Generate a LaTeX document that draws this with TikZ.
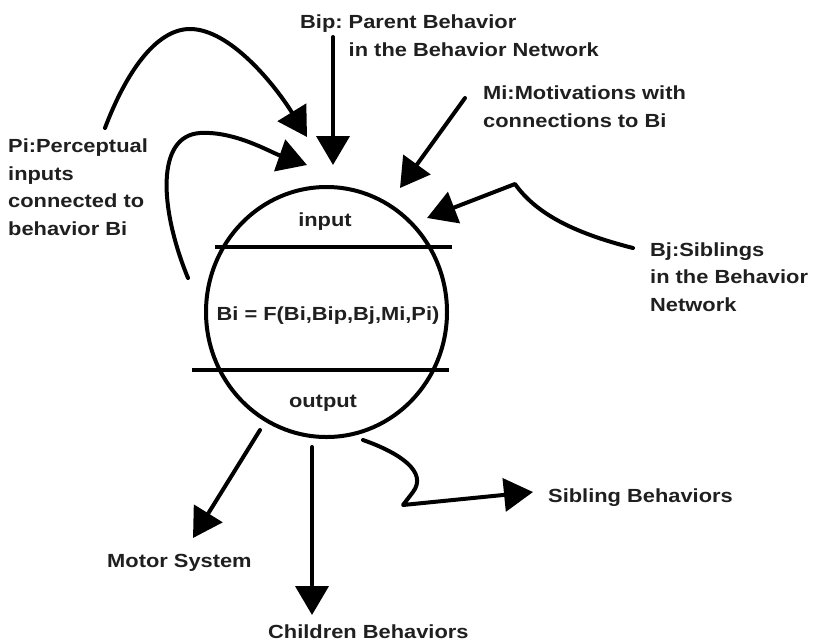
\documentclass[tikz,border=0pt]{standalone}
\usepackage{fontspec}
\setmainfont{Liberation Sans}[FakeStretch=1.15]
\usetikzlibrary{arrows.meta,shapes.geometric}
\definecolor{txtcol}{gray}{0.12}
\begin{document}
\begin{tikzpicture}[x=1pt,y=-1pt,
  lbl/.style={inner sep=0pt, font=\fontsize{19}{27.5}\selectfont\bfseries\frenchspacing,
              text=txtcol, align=left},
  conn/.style={line width=4pt, line cap=round, line join=round,
               -{Triangle[length=29pt,width=33pt]}},
  rule/.style={line width=4pt},
  unit/.style={draw, ellipse, line width=4pt, inner sep=0pt,
               minimum width=241pt, minimum height=250pt}]
\useasboundingbox (0,0) rectangle (818,641);

% behaviour unit with its input / output bands
\node[unit] (bi) at (326.5,312) {};
\draw[rule] (215,247) -- (452,247);
\draw[rule] (192,370) -- (449,370);

% labels (multi-line labels are placed by the baseline of their last line)
\node[lbl, anchor=base west] (pi) at (8,235) {Pi:Perceptual\\inputs\\connected to\\behavior Bi};
\node[lbl, anchor=base west] (bip) at (300,56) {Bip: Parent Behavior\\\phantom{Bip: }in the Behavior Network};
\node[lbl, anchor=base west] (mi) at (483,127) {Mi:Motivations with\\connections to Bi};
\node[lbl, anchor=base west] (bj) at (650,311) {Bj:Siblings\\in the Behavior\\Network};
\node[lbl, anchor=base] (inp) at (325,226) {input};
\node[lbl, anchor=base] (fn) at (328,320) {Bi = F(Bi,Bip,Bj,Mi,Pi)};
\node[lbl, anchor=base] (outp) at (323,407) {output};
\node[lbl, anchor=base west] (motor) at (107,567) {Motor System};
\node[lbl, anchor=base west] (children) at (268,638) {Children Behaviors};
\node[lbl, anchor=base west] (sib) at (548,502) {Sibling Behaviors};

% connector end points
\coordinate (bipS) at (333,37);   \coordinate (bipT) at (333,165);
\coordinate (arcS) at (105,128);  \coordinate (arcM) at (190,29);  \coordinate (arcT) at (307,137);
\coordinate (piS) at (188,278);   \coordinate (piM) at (200,133);  \coordinate (piT) at (307,165);
\coordinate (miS) at (465,98);    \coordinate (miT) at (400,188);
\coordinate (bjS) at (633,248);   \coordinate (bjK) at (515,184);  \coordinate (bjT) at (427,218);
\coordinate (moS) at (260,430);   \coordinate (moT) at (193,538);
\coordinate (chS) at (312,447);   \coordinate (chT) at (312,615);
\coordinate (sbS) at (363,440);   \coordinate (sbK) at (403,505);  \coordinate (sbT) at (533,492);

% incoming connections
\draw[conn] (bipS) -- (bipT);
\draw[conn] (arcS) .. controls (125,75) and (155,29) .. (arcM)
                   .. controls (230,29) and (275,85) .. (arcT);
\draw[conn] (piS) .. controls (160,210) and (155,136) .. (piM)
                  .. controls (235,131) and (270,152) .. (piT);
\draw[conn] (miS) -- (miT);
\draw[conn] (bjS) .. controls (570,232) and (535,212) .. (bjK) -- (bjT);

% outgoing connections
\draw[conn] (moS) -- (moT);
\draw[conn] (chS) -- (chT);
\draw[conn] (sbS) .. controls (400,453) and (428,472) .. (413,492) -- (sbK) -- (sbT);
\end{tikzpicture}
\end{document}
